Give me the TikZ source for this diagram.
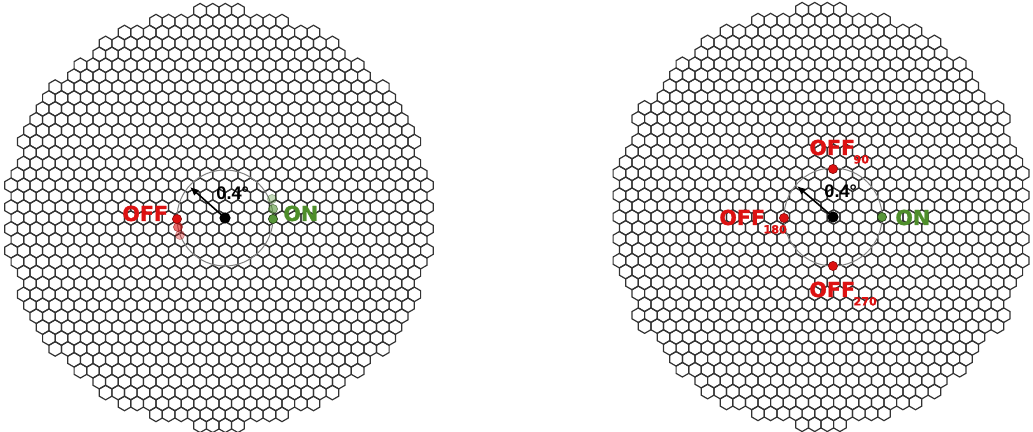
\documentclass[tikz,border=0pt]{standalone}
\usepackage{fontspec}
\setmainfont{Liberation Sans}
\newfontfamily\labfont[BoldFeatures={FakeBold=1.2}]{DejaVu Sans}
\usetikzlibrary{arrows.meta}
\definecolor{offred}{RGB}{221,17,17}
\definecolor{ongreen}{RGB}{78,142,42}
\definecolor{dotgreen}{RGB}{88,150,58}
\def\hp{12.6}
\def\hh{10.91}
\def\hr{7.27}
\newcommand\hexfield[4]{%
  \foreach \j in {-20,...,20}{%
    \foreach \i in {-18,...,18}{%
      \pgfmathsetmacro\hx{\i*\hp + mod(abs(\j),2)*\hp/2}%
      \pgfmathsetmacro\hy{\j*\hh}%
      \pgfmathtruncatemacro\inside{((\hx/#3)^2+(\hy/#4)^2)<=1 ? 1 : 0}%
      \ifnum\inside=1
        \draw[hexline] (#1+\hx,#2+\hy) +(90:\hr) -- +(150:\hr) -- +(210:\hr) -- +(270:\hr) -- +(330:\hr) -- +(30:\hr) -- cycle;
      \fi
    }%
  }%
}
\newcommand\offsub[1]{\hspace{-0.8pt}\raisebox{-4.2pt}{\fontsize{5.6}{7}\selectfont #1}}
\tikzset{
  hexline/.style={draw=black!80, line width=0.6pt},
  dotoff/.style={circle, fill=offred, draw=offred!60!black, line width=0.3pt, minimum size=4.6pt, inner sep=0pt},
  doton/.style={circle, fill=dotgreen, draw=ongreen!45!black, line width=0.3pt, minimum size=4.6pt, inner sep=0pt},
  dotctr/.style={circle, fill=black, minimum size=5.6pt, inner sep=0pt},
  wobcirc/.style={draw=black!50, line width=0.5pt},
  radarrow/.style={line width=0.8pt, -{Latex[length=4.4pt,width=3.8pt]}},
  offlab/.style={text=offred, font=\labfont\bfseries\fontsize{10.3}{12}\selectfont, inner sep=0pt, anchor=base west},
  onlab/.style={text=ongreen, font=\labfont\bfseries\fontsize{10.3}{12}\selectfont, inner sep=0pt, anchor=base west},
  anglab/.style={text=black, font=\bfseries\fontsize{9.1}{11}\selectfont, inner sep=0pt, anchor=base west}
}
\begin{document}
\begin{tikzpicture}[x=0.5pt,y=-0.5pt]
\fill[white] (0,0) rectangle (1033,432);
\useasboundingbox (0,0) rectangle (1033,432);
% hexagonal cameras
\hexfield{219}{218}{211}{209}
\hexfield{821}{217}{207}{209}
% ---------- left panel ----------
\coordinate (cL) at (225,218);
\coordinate (aL) at (190,187);
\draw[wobcirc] (cL) circle[radius=24pt];
\draw[radarrow] (cL) -- (aL);
\node[dotctr] (cLd) at (cL) {};
\node[anglab] (angL) at (216,200) {0.4°};
\node[dotoff, opacity=0.35] (offL3) at (180,235) {};
\node[dotoff, opacity=0.6] (offL2) at (178,227) {};
\node[dotoff] (offL) at (177,219) {};
\node[doton, opacity=0.35] (onL3) at (272,199) {};
\node[doton, opacity=0.6] (onL2) at (273,209) {};
\node[doton] (onL) at (273,219) {};
\node[offlab] (offLlab) at (122,221) {OFF};
\node[onlab] (onLlab) at (283,221) {ON};
% ---------- right panel ----------
\coordinate (cR) at (833,217);
\coordinate (aR) at (797,186);
\draw[wobcirc] (cR) circle[radius=24.5pt];
\draw[radarrow] (cR) -- (aR);
\node[dotctr] (cRd) at (cR) {};
\node[anglab] (angR) at (824,198) {0.4°};
\node[dotoff] (off90) at (833,169) {};
\node[dotoff] (off180) at (784,218) {};
\node[dotoff] (off270) at (833,266) {};
\node[doton] (onR) at (882,217) {};
\node[offlab] (off90lab) at (809,155) {OFF\offsub{90}};
\node[offlab] (off180lab) at (719,225) {OFF\offsub{180}};
\node[offlab] (off270lab) at (809,297) {OFF\offsub{270}};
\node[onlab] (onRlab) at (895,225) {ON};
\end{tikzpicture}
\end{document}
